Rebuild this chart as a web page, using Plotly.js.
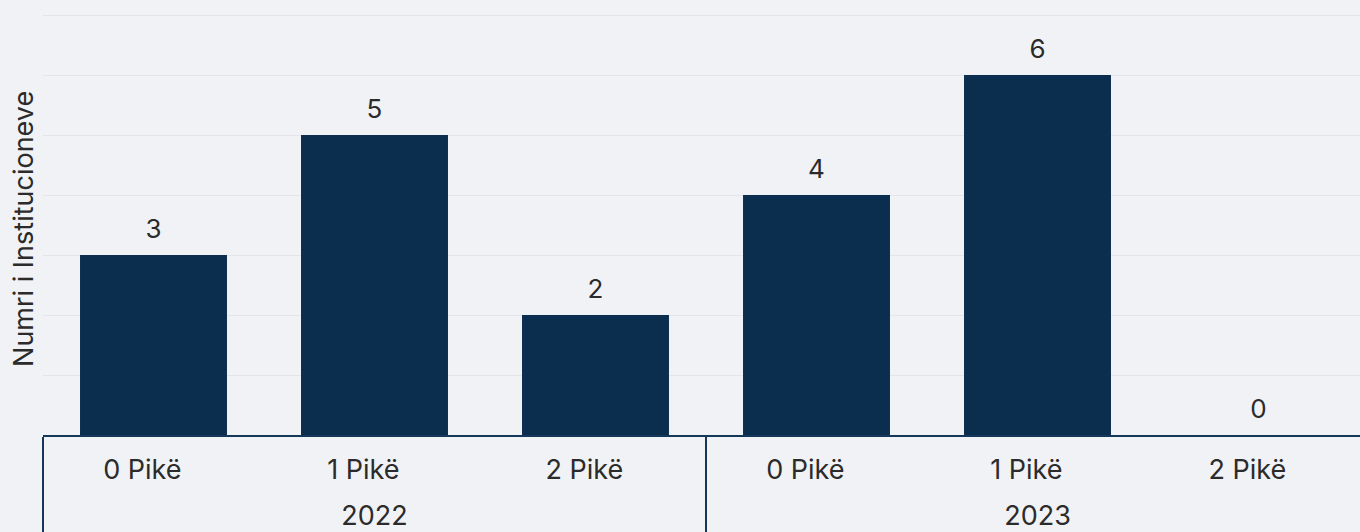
<!DOCTYPE html>
<html>
<head>
<meta charset="utf-8">
<script src="https://cdn.plot.ly/plotly-3.0.1.min.js"></script>
<style>
html,body{margin:0;padding:0;overflow:hidden;background:#f1f2f6;}
#chart{width:1372px;height:532px;}
</style>
</head>
<body>
<div id="chart"></div>
<script>
const years = ["2022","2022","2022","2023","2023","2023"];
const points = ["0 Pikë","1 Pikë","2 Pikë","0 Pikë","1 Pikë","2 Pikë"];
const counts = [3, 5, 2, 4, 6, 0];
const yTitle = "Numri i Institucioneve";

// a tall blank after each point label gives the year row its extra spacing
const pointTicks = points.map(p => p + "<span style='font-size:44px'>&nbsp;</span>");

const bars = {
  type: "bar",
  x: [years, pointTicks],
  y: counts,
  marker: {color: "#0b2d4e"},
  hoverinfo: "y"
};

const labels = {
  type: "scatter",
  mode: "text+markers",
  x: [years, pointTicks],
  y: counts,
  text: counts.map(String),
  textposition: "top center",
  marker: {size: 16, opacity: 0},
  cliponaxis: false,
  textfont: {family: "Inter, sans-serif", size: 26, color: "#2b2b2b"},
  hoverinfo: "skip"
};

const layout = {
  width: 1372,
  height: 532,
  margin: {l: 43, r: 3, t: 0, b: 97},
  paper_bgcolor: "#f1f2f6",
  plot_bgcolor: "#f1f2f6",
  font: {family: "Inter, sans-serif", size: 26, color: "#2b2b2b"},
  bargap: 0.335,
  showlegend: false,
  xaxis: {
    type: "multicategory",
    showline: true,
    linecolor: "#15385a",
    linewidth: 2,
    dividercolor: "#15385a",
    dividerwidth: 2,
    showgrid: false,
    ticklabelstandoff: 10,
    ticklabelshift: -5,
    tickfont: {size: 27, color: "#2b2b2b"}
  },
  yaxis: {
    range: [0, 7.25],
    dtick: 1,
    showticklabels: false,
    showgrid: true,
    gridcolor: "#e3e5ea",
    gridwidth: 1,
    zeroline: false,
    title: {text: yTitle + "&nbsp;&nbsp;&nbsp;", font: {size: 27, color: "#2b2b2b"}, standoff: 0}
  }
};

Plotly.newPlot("chart", [bars, labels], layout, {displayModeBar: false, staticPlot: true});
</script>
</body>
</html>
